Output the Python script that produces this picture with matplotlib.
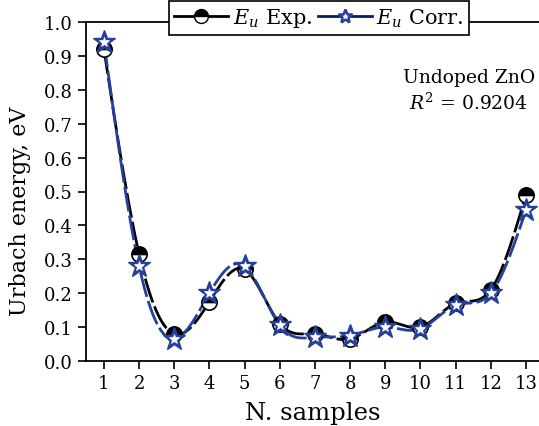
import numpy as np
import matplotlib
matplotlib.use("Agg")
import matplotlib.pyplot as plt
from matplotlib.lines import Line2D

samples = [1, 2, 3, 4, 5, 6, 7, 8, 9, 10, 11, 12, 13]
eu_exp = [0.92, 0.315, 0.08, 0.175, 0.27, 0.11, 0.08, 0.065, 0.115, 0.10, 0.17, 0.21, 0.49]
eu_corr = [0.94, 0.28, 0.065, 0.20, 0.28, 0.105, 0.07, 0.075, 0.10, 0.095, 0.165, 0.20, 0.445]
yticks = [0.0, 0.1, 0.2, 0.3, 0.4, 0.5, 0.6, 0.7, 0.8, 0.9, 1.0]

plt.rcParams['font.family'] = ['DejaVu Serif']
plt.rcParams['mathtext.fontset'] = 'dejavuserif'


def natural_spline(x, y, n=400):
    x = np.asarray(x, float); y = np.asarray(y, float)
    k = len(x); h = np.diff(x)
    A = np.zeros((k, k)); b = np.zeros(k)
    A[0, 0] = 1; A[-1, -1] = 1
    for i in range(1, k - 1):
        A[i, i - 1] = h[i - 1]; A[i, i] = 2 * (h[i - 1] + h[i]); A[i, i + 1] = h[i]
        b[i] = 3 * ((y[i + 1] - y[i]) / h[i] - (y[i] - y[i - 1]) / h[i - 1])
    c = np.linalg.solve(A, b)
    xs = np.linspace(x[0], x[-1], n)
    idx = np.clip(np.searchsorted(x, xs) - 1, 0, k - 2)
    dx = xs - x[idx]
    bb = (y[1:] - y[:-1]) / h - h * (2 * c[:-1] + c[1:]) / 3
    d = (c[1:] - c[:-1]) / (3 * h)
    ys = y[idx] + bb[idx] * dx + c[idx] * dx ** 2 + d[idx] * dx ** 3
    return xs, ys


blue = '#24409a'
fig = plt.figure(figsize=(5.39, 4.27), dpi=100)
ax = fig.add_axes([86 / 539, 1 - 362 / 427, 1 - 86 / 539, (362 - 23) / 427])

xs, ys = natural_spline(samples, eu_exp)
ax.plot(xs, ys, color='black', lw=2, dashes=(9, 1.5), zorder=2)
xs2, ys2 = natural_spline(samples, eu_corr)
ax.plot(xs2, ys2, color=blue, lw=2, dashes=(9, 1.5), zorder=2)

ax.plot(samples, eu_exp, ls='none', marker='o', ms=11, fillstyle='top',
        markerfacecolor='black', markerfacecoloralt='white', markeredgecolor='black',
        mew=1.2, zorder=3)
ax.plot(samples, eu_corr, ls='none', marker='*', ms=17, markerfacecolor=blue,
        markeredgecolor=blue, mew=1.0, zorder=4)
ax.plot(samples, eu_corr, ls='none', marker='*', ms=7, markerfacecolor='white',
        markeredgecolor='white', mew=0.5, zorder=5)

ax.set_xlim(0.49, 13.37)
ax.set_ylim(0.0, 1.0)
ax.set_xticks(samples)
ax.set_yticks(yticks)
ax.set_yticklabels([f'{v:.1f}' for v in yticks])
ax.tick_params(axis='both', direction='out', length=6, width=1.2, labelsize=13)
ax.spines['right'].set_visible(False)
for s in ['left', 'bottom', 'top']:
    ax.spines[s].set_linewidth(1.3)

ax.set_xlabel('N. samples', fontsize=17.5, labelpad=6)
ax.set_ylabel('Urbach energy, eV', fontsize=16)
ax.yaxis.set_label_coords(-0.122, 0.445)

ax.text(0.845, 0.838, 'Undoped ZnO', transform=ax.transAxes, ha='center', va='center', fontsize=13.5)
ax.text(0.845, 0.764, r'$R^2$ = 0.9204', transform=ax.transAxes, ha='center', va='center', fontsize=13.5)

h1 = Line2D([], [], color='black', lw=2, marker='o', ms=10, fillstyle='top',
            markerfacecolor='black', markerfacecoloralt='white', markeredgecolor='black')
h2 = Line2D([], [], color='#0b1f5e', lw=2, marker='*', ms=10, markerfacecolor='white',
            markeredgecolor=blue, mew=1.8)
leg = fig.legend([h1, h2], [r'$E_u$ Exp.', r'$E_u$ Corr.'], loc='center',
                 bbox_to_anchor=(319 / 539, 1 - 19 / 427), ncol=2, fontsize=15,
                 frameon=True, fancybox=False, edgecolor='black', framealpha=1,
                 handlelength=2.6, handletextpad=0.2, columnspacing=0.3,
                 borderpad=0.25, borderaxespad=0)
leg.get_frame().set_linewidth(1.2)

fig.savefig('out.png', dpi=100)
